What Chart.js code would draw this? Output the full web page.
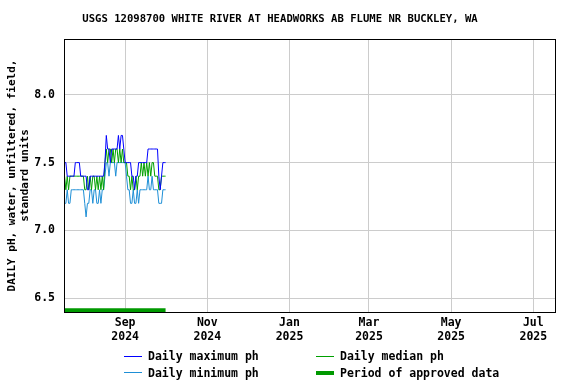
<!DOCTYPE html>
<html>
<head>
<meta charset="utf-8">
<script src="https://cdn.jsdelivr.net/npm/chart.js@4/dist/chart.umd.min.js"></script>
<style>
  body { margin: 0; background: #fff; }
  #wrap { position: relative; width: 576px; height: 384px; font-family: 'DejaVu Sans Mono', monospace; font-weight: bold; color: #000; }
  #title { position: absolute; left: 0; top: 12px; width: 560px; text-align: center; font-size: 10.6px; }
  .leg { position: absolute; font-size: 11.5px; line-height: 14px; white-space: pre; }
  .sw { position: absolute; width: 18px; height: 1px; }
</style>
</head>
<body>
<div id="wrap">
  <canvas id="chart" width="576" height="384"></canvas>
  <div id="title">USGS 12098700 WHITE RIVER AT HEADWORKS AB FLUME NR BUCKLEY, WA</div>
  <div class="sw" style="left:124px;top:356px;background:#0000ff"></div>
  <div class="leg" style="left:148px;top:349px">Daily maximum ph</div>
  <div class="sw" style="left:124px;top:372px;background:#1e8fd6"></div>
  <div class="leg" style="left:148px;top:366px">Daily minimum ph</div>
  <div class="sw" style="left:316px;top:356px;background:#00a000"></div>
  <div class="leg" style="left:340px;top:349px">Daily median ph</div>
  <div class="sw" style="left:316px;top:371px;height:4px;background:#009900"></div>
  <div class="leg" style="left:340px;top:366px">Period of approved data</div>
</div>
<script>
// daily values, one per day starting at firstDate
const firstDate = '2024-07-18'
const maxPh = [
  7.5, 7.5, 7.4, 7.4, 7.4, 7.4, 7.4, 7.4, 7.5, 7.5, 7.5, 7.5, 7.4, 7.4, 7.4, 7.4,
  7.4, 7.3, 7.3, 7.4, 7.4, 7.4, 7.4, 7.4, 7.4, 7.4, 7.4, 7.4, 7.4, 7.4, 7.5, 7.7,
  7.6, 7.6, 7.5, 7.6, 7.6, 7.6, 7.6, 7.6, 7.7, 7.6, 7.7, 7.7, 7.6, 7.5, 7.5, 7.5,
  7.5, 7.5, 7.4, 7.4, 7.3, 7.4, 7.4, 7.5, 7.5, 7.5, 7.5, 7.5, 7.5, 7.5, 7.6, 7.6,
  7.6, 7.6, 7.6, 7.6, 7.6, 7.6, 7.4, 7.3, 7.4, 7.5, 7.5, 7.5
]
const medianPh = [
  7.4, 7.3, 7.4, 7.3, 7.4, 7.4, 7.4, 7.4, 7.4, 7.4, 7.4, 7.4, 7.4, 7.4, 7.4, 7.3,
  7.3, 7.4, 7.3, 7.4, 7.3, 7.4, 7.4, 7.3, 7.4, 7.3, 7.4, 7.3, 7.4, 7.3, 7.5, 7.6,
  7.5, 7.6, 7.6, 7.5, 7.6, 7.5, 7.6, 7.6, 7.5, 7.6, 7.5, 7.6, 7.5, 7.5, 7.5, 7.4,
  7.4, 7.3, 7.4, 7.3, 7.3, 7.4, 7.3, 7.4, 7.4, 7.5, 7.4, 7.5, 7.4, 7.5, 7.4, 7.5,
  7.4, 7.5, 7.5, 7.4, 7.4, 7.4, 7.3, 7.3, 7.4, 7.4, 7.4, 7.4
]
const minPh = [
  7.2, 7.2, 7.3, 7.2, 7.2, 7.3, 7.3, 7.3, 7.3, 7.3, 7.3, 7.3, 7.3, 7.3, 7.3, 7.2,
  7.1, 7.2, 7.2, 7.3, 7.3, 7.2, 7.3, 7.3, 7.2, 7.2, 7.3, 7.2, 7.3, 7.3, 7.4, 7.5,
  7.5, 7.4, 7.5, 7.5, 7.5, 7.5, 7.4, 7.5, 7.5, 7.5, 7.5, 7.5, 7.5, 7.5, 7.4, 7.3,
  7.3, 7.2, 7.2, 7.3, 7.2, 7.2, 7.3, 7.2, 7.3, 7.3, 7.3, 7.3, 7.3, 7.3, 7.4, 7.3,
  7.3, 7.4, 7.3, 7.3, 7.3, 7.3, 7.2, 7.2, 7.2, 7.3, 7.3, 7.3
]
// approved period and its marker level
const approvedStart = '2024-07-18'
const approvedEnd = '2024-10-01'
const approvedLevel = 6.412

const xTickDates = ['2024-09-01', '2024-11-01', '2025-01-01', '2025-03-01', '2025-05-01', '2025-07-01']
const xTickLabels = [['Sep', '2024'], ['Nov', '2024'], ['Jan', '2025'], ['Mar', '2025'], ['May', '2025'], ['Jul', '2025']]
const yTicks = [6.5, 7.0, 7.5, 8.0]

const DAY = 86400000
const toDay = s => Date.parse(s + 'T00:00:00Z') / DAY
const start = toDay(firstDate)
const pts = arr => arr.map((v, i) => ({ x: start + i, y: v }))
const tickDays = xTickDates.map(toDay)

const font = { family: "'DejaVu Sans Mono', monospace", weight: 'bold', size: 11.5 }

// plot frame
const frame = {
  id: 'frame',
  afterDraw (chart) {
    const { ctx, chartArea: a } = chart
    ctx.save()
    ctx.strokeStyle = '#000'
    ctx.lineWidth = 1
    ctx.strokeRect(a.left + 0.5, a.top + 0.5, a.right - a.left, a.bottom - a.top)
    ctx.restore()
  }
}

new Chart(document.getElementById('chart').getContext('2d'), {
  type: 'line',
  data: {
    datasets: [
      { label: 'Daily maximum ph', data: pts(maxPh), borderColor: '#0000ff', borderWidth: 1 },
      { label: 'Daily median ph', data: pts(medianPh), borderColor: '#00a000', borderWidth: 1 },
      { label: 'Daily minimum ph', data: pts(minPh), borderColor: '#1e8fd6', borderWidth: 1 },
      {
        label: 'Period of approved data',
        data: [{ x: toDay(approvedStart), y: approvedLevel }, { x: toDay(approvedEnd), y: approvedLevel }],
        borderColor: '#009900',
        borderWidth: 4
      }
    ]
  },
  options: {
    responsive: false,
    animation: false,
    events: [],
    elements: { point: { radius: 0 }, line: { tension: 0 } },
    layout: { padding: { left: 0, top: 39, right: 21, bottom: 32 } },
    plugins: { legend: { display: false }, title: { display: false }, tooltip: { enabled: false } },
    scales: {
      x: {
        type: 'linear',
        min: toDay('2024-07-17') + 0.6,
        max: toDay('2025-07-17') + 0.1,
        afterFit: s => { s.height = 40 },
        afterBuildTicks: s => { s.ticks = tickDays.map(v => ({ value: v })) },
        ticks: {
          color: '#000',
          font,
          padding: 4,
          maxRotation: 0,
          autoSkip: false,
          callback: (v) => xTickLabels[tickDays.indexOf(v)]
        },
        grid: { color: '#cccccc', drawTicks: false },
        border: { color: '#000' }
      },
      y: {
        min: 6.4,
        max: 8.41,
        afterFit: s => { s.width = 64 },
        afterBuildTicks: s => { s.ticks = yTicks.map(v => ({ value: v })) },
        ticks: { color: '#000', font, padding: 9, callback: v => v.toFixed(1) },
        grid: { color: '#cccccc', drawTicks: false },
        border: { color: '#000' },
        title: {
          display: true,
          text: ['DAILY pH, water, unfiltered, field,', 'standard units'],
          color: '#000',
          font: { family: "'DejaVu Sans Mono', monospace", weight: 'bold', size: 11, lineHeight: 1.15 },
          padding: { top: 6, bottom: 0 }
        }
      }
    }
  },
  plugins: [frame]
})
</script>
</body>
</html>
